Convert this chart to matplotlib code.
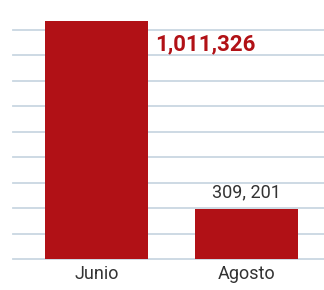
import matplotlib
matplotlib.use("Agg")
import matplotlib.pyplot as plt

# Data (bar heights in gridline units; labels as printed)
months = ["Junio", "Agosto"]
heights = [9.35, 1.97]
value_labels = ["1,011,326", "309, 201"]

plt.rcParams["font.family"] = ["Roboto", "DejaVu Sans"]

fig = plt.figure(figsize=(3.24, 2.90), dpi=100)
ax = fig.add_axes([13 / 324, 1 - 259 / 290, 311 / 324, 259 / 290])

ax.bar(range(len(months)), heights, width=0.687, color="#B11116", zorder=2)

ax.set_xlim(-0.557, 1.517)
ax.set_ylim(0, 10.18)
ax.set_yticks(range(0, 10))
ax.yaxis.grid(True, color="#C9D7E2", linewidth=1.3, zorder=0)
for gl in ax.get_ygridlines():
    gl.set_clip_on(False)
ax.tick_params(axis="y", left=False, labelleft=False)
ax.tick_params(axis="x", length=0, pad=4, labelsize=13, labelcolor="#333333")
ax.set_xticks(range(len(months)))
ax.set_xticklabels(months)
for s in ax.spines.values():
    s.set_visible(False)

# value labels
ax.annotate(value_labels[0], xy=(0.3435, heights[0]), xytext=(5, -17),
            textcoords="offset points", ha="left", va="center",
            fontsize=16, fontweight="bold", color="#B11116")
ax.annotate(value_labels[1], xy=(1, heights[1]), xytext=(0, 12),
            textcoords="offset points", ha="center", va="center",
            fontsize=13, color="#333333")

fig.savefig("out.png", dpi=100)
